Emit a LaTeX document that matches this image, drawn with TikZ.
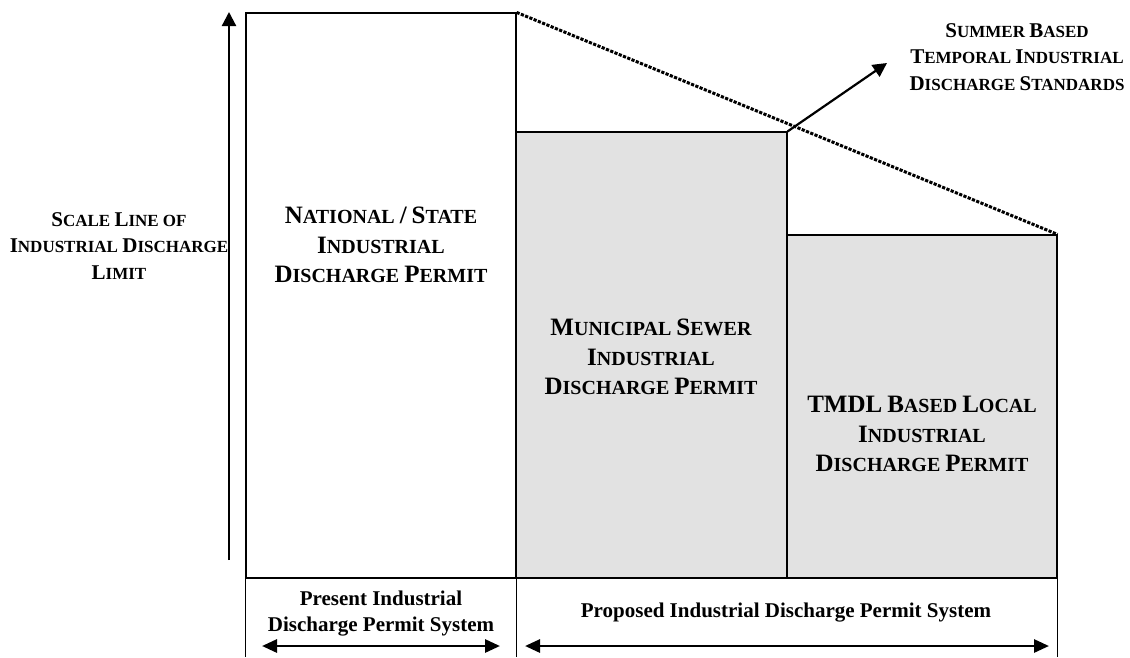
\documentclass[tikz,border=0pt]{standalone}
\usepackage{fontspec}
\setmainfont{Liberation Serif}
\usetikzlibrary{arrows.meta}
\definecolor{shadegray}{HTML}{E2E2E2}

% small caps made by hand: first letter larger
\newcommand{\capbig}[1]{{\fontsize{25}{29.5}\selectfont #1}}
\newcommand{\capsml}[1]{{\fontsize{21}{26.5}\selectfont #1}}

\tikzset{
  permitbox/.style = {draw, rectangle, line width = 1.2pt, inner sep = 0pt},
  boxtext/.style = {align = center, font = \fontsize{20}{29.5}\selectfont\bfseries},
  sidetext/.style = {align = center, font = \fontsize{17}{26.5}\selectfont\bfseries},
  systext/.style = {align = center, font = \fontsize{21}{26}\selectfont\bfseries},
  bigarrow/.style = {line width = 2.2pt, -{Triangle[length = 14pt, width = 14pt]}},
  spanarrow/.style = {line width = 2.8pt, {Triangle[length = 15pt, width = 13pt]}-{Triangle[length = 15pt, width = 13pt]}}
}

\begin{document}
\begin{tikzpicture}[x = 1pt, y = -1pt]
        \useasboundingbox (0, 0) rectangle (1130, 657);

        % Permit boxes
        \node [permitbox, minimum width = 270pt, minimum height = 565pt] (national) at (381, 295.5) {};
        \node [permitbox, fill = shadegray, minimum width = 271pt, minimum height = 446pt] (municipal) at (651.5, 355) {};
        \node [permitbox, fill = shadegray, minimum width = 270pt, minimum height = 343pt] (tmdl) at (922, 406.5) {};

        % Bottom row
        \draw [line width = 1.2pt] (national.south west) -- (national.south west |- 0, 657);
        \draw [line width = 1.2pt] (national.south east) -- (national.south east |- 0, 657);
        \draw [line width = 1.2pt] (tmdl.south east) -- (tmdl.south east |- 0, 657);

        % Box labels
        \node [boxtext] (nationaltext) at (381, 245) {\capbig{N}ATIONAL \capbig{/} \capbig{S}TATE\\ \capbig{I}NDUSTRIAL\\ \capbig{D}ISCHARGE \capbig{P}ERMIT};
        \node [boxtext] (municipaltext) at (651, 357) {\capbig{M}UNICIPAL \capbig{S}EWER\\ \capbig{I}NDUSTRIAL\\ \capbig{D}ISCHARGE \capbig{P}ERMIT};
        \node [boxtext] (tmdltext) at (922, 434) {\capbig{TMDL} \capbig{B}ASED \capbig{L}OCAL\\ \capbig{I}NDUSTRIAL\\ \capbig{D}ISCHARGE \capbig{P}ERMIT};

        % Side labels
        \node [sidetext] (scaletext) at (119, 246) {\capsml{S}CALE \capsml{L}INE OF\\ \capsml{I}NDUSTRIAL \capsml{D}ISCHARGE\\ \capsml{L}IMIT};
        \node [sidetext] (summertext) at (1017, 57) {\capsml{S}UMMER \capsml{B}ASED\\ \capsml{T}EMPORAL \capsml{I}NDUSTRIAL\\ \capsml{D}ISCHARGE \capsml{S}TANDARDS};

        % Scale line
        \coordinate (scalebot) at (229, 560);
        \coordinate (scaletop) at (229, 12);
        \draw [bigarrow] (scalebot) -- (scaletop);

        % Summer line
        \draw [line width = 3pt, dash pattern = on 3.2pt off 1.4pt] (national.north east) -- (tmdl.north east);
        \coordinate (summertip) at (887, 63);
        \draw [bigarrow] (municipal.north east) -- (summertip);

        % Permit systems
        \node [systext] (present) at (381, 613.5) {Present Industrial\\ Discharge Permit System};
        \node [systext] (proposed) at (786, 613) {Proposed Industrial Discharge Permit System};
        \coordinate (presentleft) at (262, 646);
        \coordinate (presentright) at (500, 646);
        \coordinate (proposedleft) at (525, 646);
        \coordinate (proposedright) at (1049, 646);
        \draw [spanarrow] (presentleft) -- (presentright);
        \draw [spanarrow] (proposedleft) -- (proposedright);

\end{tikzpicture}
\end{document}
